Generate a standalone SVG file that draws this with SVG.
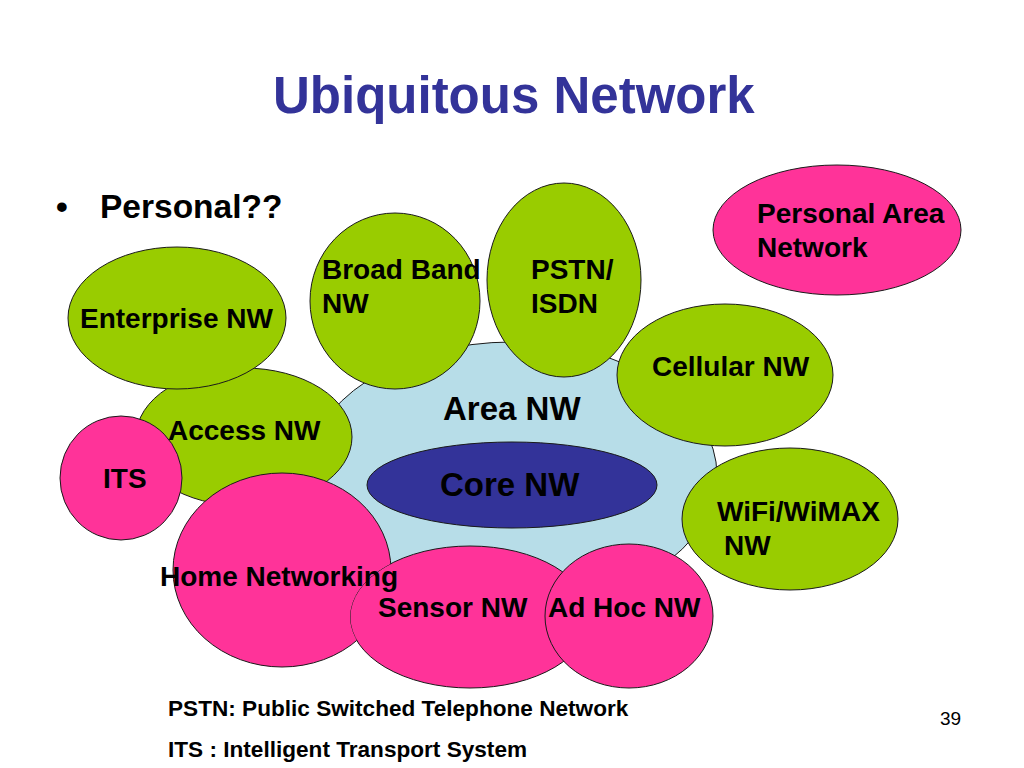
<svg xmlns="http://www.w3.org/2000/svg" width="1024" height="768" viewBox="0 0 1024 768">
<style>
  text { font-family: "Liberation Sans", Arial, sans-serif; font-weight: bold; fill: #000; }
  .title { font-size: 51px; fill: #333399; }
  .lbl { font-size: 28px; }
  .big { font-size: 33px; }
  .bul { font-size: 33.5px; }
  .note { font-size: 22.6px; }
  .num { font-size: 19px; font-weight: normal; }
  .g { fill: #99CC00; stroke: #1a1a1a; stroke-width: 1; }
  .p { fill: #FF3399; stroke: #1a1a1a; stroke-width: 1; }
  .a { fill: #B7DDE8; stroke: #1a1a1a; stroke-width: 1; }
  .c { fill: #333399; stroke: #1a1a1a; stroke-width: 1; }
</style>
<defs>
  <clipPath id="notSensor">
    <path clip-rule="evenodd" d="M0 0H1024V768H0Z M350 617a120 71 0 1 0 240 0a120 71 0 1 0 -240 0Z"/>
  </clipPath>
</defs>
<rect width="1024" height="768" fill="#fff"/>
<text class="title" x="273" y="113">Ubiquitous Network</text>
<g id="bullet">
  <text class="bul" x="56" y="218">•</text>
  <text class="bul" x="100" y="218">Personal??</text>
</g>
<g id="area-nw">
  <ellipse class="a" cx="512" cy="475" rx="205" ry="133"/>
  <text class="big" x="443" y="420">Area NW</text>
</g>
<g id="core-nw">
  <ellipse class="c" cx="512" cy="485" rx="145" ry="43"/>
  <text class="big" x="440" y="496">Core NW</text>
</g>
<g id="access-nw">
  <ellipse class="g" cx="244" cy="437" rx="108" ry="69"/>
  <text class="lbl" x="168" y="440">Access NW</text>
</g>
<g id="enterprise-nw">
  <ellipse class="g" cx="177" cy="318" rx="109" ry="71"/>
  <text class="lbl" x="80" y="328">Enterprise NW</text>
</g>
<g id="its">
  <ellipse class="p" cx="121" cy="478" rx="61" ry="62"/>
  <text class="lbl" x="103" y="488">ITS</text>
</g>
<g id="broadband-nw">
  <ellipse class="g" cx="395" cy="301" rx="85" ry="88"/>
  <text class="lbl" x="322" y="279">Broad Band</text>
  <text class="lbl" x="322" y="313">NW</text>
</g>
<g id="pstn-isdn">
  <ellipse class="g" cx="564" cy="280" rx="77" ry="97"/>
  <text class="lbl" x="531" y="279">PSTN/</text>
  <text class="lbl" x="531" y="313">ISDN</text>
</g>
<g id="cellular-nw">
  <ellipse class="g" cx="725" cy="375" rx="108" ry="71"/>
  <text class="lbl" x="652" y="376">Cellular NW</text>
</g>
<g id="wifi-wimax-nw">
  <ellipse class="g" cx="790" cy="519" rx="108" ry="71"/>
  <text class="lbl" x="717" y="521">WiFi/WiMAX</text>
  <text class="lbl" x="724" y="555">NW</text>
</g>
<g id="personal-area-network">
  <ellipse class="p" cx="837" cy="230" rx="124" ry="65"/>
  <text class="lbl" x="757" y="223">Personal Area</text>
  <text class="lbl" x="757" y="257">Network</text>
</g>
<g id="sensor-nw">
  <ellipse class="p" cx="470" cy="617" rx="120" ry="71"/>
  <text class="lbl" x="378" y="617">Sensor NW</text>
</g>
<g id="adhoc-nw">
  <ellipse class="p" cx="629" cy="616" rx="84" ry="72"/>
  <text class="lbl" x="548" y="617">Ad Hoc NW</text>
</g>
<g id="home-networking">
  <ellipse class="p" cx="282" cy="570" rx="109" ry="97" clip-path="url(#notSensor)"/>
  <text class="lbl" x="160" y="586">Home Networking</text>
</g>
<g id="notes">
  <text class="note" x="168" y="716">PSTN: Public Switched Telephone Network</text>
  <text class="note" x="168" y="757">ITS : Intelligent Transport System</text>
  <text class="num" x="940" y="725">39</text>
</g>
</svg>
